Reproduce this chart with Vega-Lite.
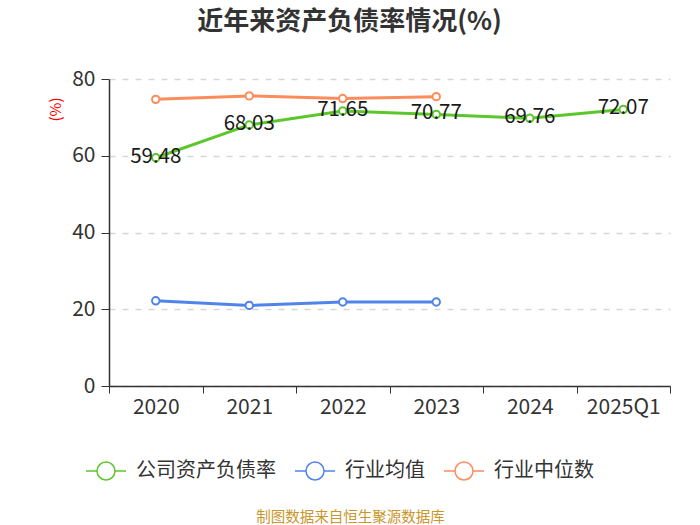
{
  "$schema": "https://vega.github.io/schema/vega-lite/v6.json",
  "autosize": "none",
  "width": 561,
  "height": 307,
  "padding": {"left": 109, "top": 79, "right": 30, "bottom": 139},
  "background": "white",
  "title": {
    "text": "近年来资产负债率情况(%)",
    "anchor": "middle",
    "frame": "group",
    "dx": -40,
    "offset": 33,
    "fontSize": 26,
    "fontWeight": "bold",
    "color": "#333333",
    "font": "Noto Sans CJK SC"
  },
  "data": {
    "values": [
      {"year": "2020", "series": "公司资产负债率", "value": 59.48},
      {"year": "2021", "series": "公司资产负债率", "value": 68.03},
      {"year": "2022", "series": "公司资产负债率", "value": 71.65},
      {"year": "2023", "series": "公司资产负债率", "value": 70.77},
      {"year": "2024", "series": "公司资产负债率", "value": 69.76},
      {"year": "2025Q1", "series": "公司资产负债率", "value": 72.07},
      {"year": "2020", "series": "行业均值", "value": 22.2},
      {"year": "2021", "series": "行业均值", "value": 21.0},
      {"year": "2022", "series": "行业均值", "value": 21.9},
      {"year": "2023", "series": "行业均值", "value": 21.9},
      {"year": "2020", "series": "行业中位数", "value": 74.7},
      {"year": "2021", "series": "行业中位数", "value": 75.6},
      {"year": "2022", "series": "行业中位数", "value": 74.9},
      {"year": "2023", "series": "行业中位数", "value": 75.4}
    ]
  },
  "encoding": {
    "x": {
      "field": "year",
      "type": "ordinal",
      "bandPosition": 0.5,
      "scale": {"type": "band", "paddingInner": 0, "paddingOuter": 0},
      "axis": {
        "title": "制图数据来自恒生聚源数据库",
        "titleX": 241,
        "titleY": 131,
        "titleAlign": "center",
        "titleBaseline": "middle",
        "titleColor": "#c9962c",
        "titleFontSize": 14.5,
        "titleFontWeight": "normal",
        "labelAngle": 0,
        "tickBand": "extent",
        "tickSize": 7,
        "labelPadding": 3,
        "labelFontSize": 21,
        "labelColor": "#333333",
        "domainColor": "#333333",
        "tickColor": "#333333",
        "domainWidth": 1.5,
        "grid": false
      }
    },
    "y": {
      "field": "value",
      "type": "quantitative",
      "scale": {"domain": [0, 80], "nice": false},
      "axis": {
        "title": "(%)",
        "titleColor": "red",
        "titleFontSize": 15,
        "titleFontWeight": "normal",
        "titleX": -54,
        "titleY": 30,
        "titleAlign": "center",
        "titleBaseline": "middle",
        "values": [0, 20, 40, 60, 80],
        "tickSize": 8,
        "labelPadding": 6,
        "labelFontSize": 21,
        "labelColor": "#333333",
        "domainColor": "#333333",
        "tickColor": "#333333",
        "domainWidth": 1.5,
        "gridColor": "#d6d6d6",
        "gridDash": [6, 7],
        "gridWidth": 1.5
      }
    }
  },
  "layer": [
    {
      "mark": {"type": "line", "strokeWidth": 3},
      "encoding": {
        "color": {
          "field": "series",
          "type": "nominal",
          "scale": {
            "domain": ["公司资产负债率", "行业均值", "行业中位数"],
            "range": ["#5cc72a", "#5084ea", "#fd8c5c"]
          },
          "legend": {
            "title": null,
            "orient": "none",
            "direction": "horizontal",
            "legendX": -24,
            "legendY": 371,
            "padding": 0,
            "symbolType": "M-1,0H-0.45M0.45,0H1M-0.45,0A0.45,0.45,0,1,0,0.45,0A0.45,0.45,0,1,0,-0.45,0",
            "symbolSize": 1600,
            "symbolStrokeWidth": 1.5,
            "symbolFillColor": "transparent",
            "labelFontSize": 20,
            "labelColor": "#333333",
            "labelOffset": 9,
            "columnPadding": 16,
            "labelLimit": 300
          }
        }
      }
    },
    {
      "mark": {"type": "point", "filled": true, "fill": "white", "opacity": 1, "size": 55, "strokeWidth": 2},
      "encoding": {
        "stroke": {
          "field": "series",
          "type": "nominal",
          "scale": {
            "domain": ["公司资产负债率", "行业均值", "行业中位数"],
            "range": ["#5cc72a", "#5084ea", "#fd8c5c"]
          },
          "legend": null
        }
      }
    },
    {
      "transform": [{"filter": "datum.series == '公司资产负债率'"}],
      "mark": {"type": "text", "fontSize": 20.5, "baseline": "middle", "align": "center", "dy": -1, "color": "#1a1a1a"},
      "encoding": {
        "text": {"field": "value", "type": "quantitative", "format": ".2f"}
      }
    }
  ],
  "config": {
    "font": "Noto Sans CJK SC",
    "view": {"stroke": null}
  }
}
